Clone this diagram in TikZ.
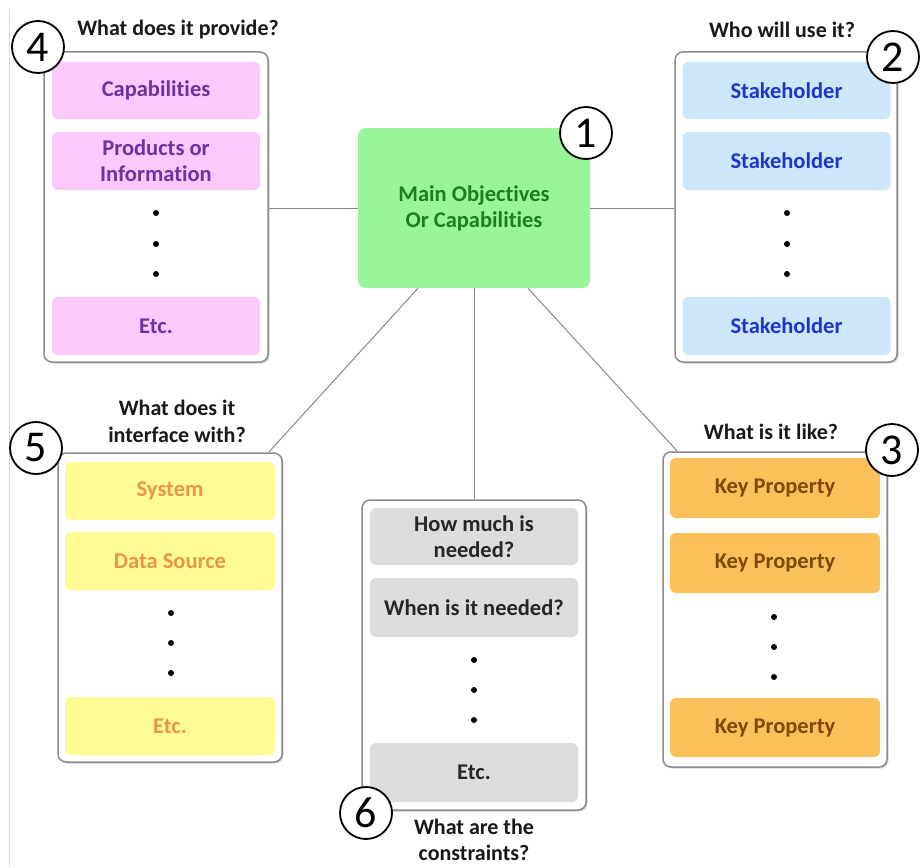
\documentclass[tikz,border=0pt]{standalone}
\usepackage{fontspec}
\setmainfont[Ligatures=NoCommon]{Carlito}
\usetikzlibrary{shadows,calc}
\definecolor{pinkF}{HTML}{FBC9FB}
\definecolor{pinkT}{HTML}{7030A0}
\definecolor{blueF}{HTML}{CCE7FA}
\definecolor{blueT}{HTML}{2035C8}
\definecolor{greenF}{HTML}{98F598}
\definecolor{greenT}{HTML}{1E7D1E}
\definecolor{yellowF}{HTML}{FFFB94}
\definecolor{yellowT}{HTML}{E8954A}
\definecolor{orangeF}{HTML}{FAC05A}
\definecolor{orangeT}{HTML}{7B4A06}
\definecolor{grayF}{HTML}{DCDCDC}
\definecolor{grayT}{HTML}{262626}
\definecolor{outl}{HTML}{8C8C8C}
\definecolor{connc}{HTML}{8A8A8A}
\tikzset{
  outerbox/.style={draw=outl, line width=1.5pt, rounded corners=8pt, fill=white,
    drop shadow={shadow xshift=1.5pt, shadow yshift=-1.5pt, opacity=0.35, fill=black!50},
    minimum width=224pt, minimum height=310pt, inner sep=0pt},
  itembox/.style={rounded corners=6pt, inner sep=0pt, align=center,
    minimum width=208pt, minimum height=57pt, font=\fontsize{22.5}{26}\bfseries\selectfont},
  titletext/.style={align=center, text=black!90, font=\fontsize{22}{27}\bfseries\selectfont, inner sep=0pt},
  dotn/.style={circle, fill=black, inner sep=0pt, minimum size=6pt},
  numc/.style={circle, draw=black, line width=1.8pt, fill=white, minimum size=52pt, inner sep=0pt,
    font=\fontsize{44}{44}\selectfont},
  conn/.style={draw=connc, line width=1pt},
}
\begin{document}
\begin{tikzpicture}[x=1pt, y=-1pt]
\useasboundingbox[fill=white] (0,0) rectangle (920,867);
\draw[black!15, line width=1pt] (9,10) -- (9,867);

% main
\node[rounded corners=8pt, fill=greenF, minimum width=232pt, minimum height=160pt, inner sep=0pt,
  align=center, text=greenT, font=\fontsize{22.5}{26}\bfseries\selectfont] (main) at (474,208)
  {Main Objectives\\Or Capabilities};

% box 4
\node[outerbox] (b4) at (156,207) {};
\node[itembox, fill=pinkF, text=pinkT] (b4a) at (156,90.5) {Capabilities};
\node[itembox, fill=pinkF, text=pinkT, minimum height=58pt] (b4b) at (156,161) {Products or\\Information};
\node[dotn] (b4d1) at (156,213) {};
\node[dotn] (b4d2) at (156,244) {};
\node[dotn] (b4d3) at (156,274) {};
\node[itembox, fill=pinkF, text=pinkT, minimum height=58pt] (b4c) at (156,326) {Etc.};
\node[titletext] (t4) at (178,30) {What does it provide?};

% box 2
\node[outerbox, minimum width=222pt] (b2) at (786,207) {};
\node[itembox, fill=blueF, text=blueT] (b2a) at (786.5,90.5) {Stakeholder};
\node[itembox, fill=blueF, text=blueT, minimum height=58pt] (b2b) at (786.5,161) {Stakeholder};
\node[dotn] (b2d1) at (787,213) {};
\node[dotn] (b2d2) at (787,244) {};
\node[dotn] (b2d3) at (787,274) {};
\node[itembox, fill=blueF, text=blueT, minimum height=58pt] (b2c) at (786.5,326) {Stakeholder};
\node[titletext] (t2) at (782,30) {Who will use it?};

% box 5
\node[outerbox, minimum height=309pt] (b5) at (170,607.5) {};
\node[itembox, fill=yellowF, text=yellowT, minimum height=58pt, minimum width=210pt] (b5a) at (170,491) {System};
\node[itembox, fill=yellowF, text=yellowT, minimum height=58pt, minimum width=210pt] (b5b) at (170,561) {Data Source};
\node[dotn] (b5d1) at (171,613) {};
\node[dotn] (b5d2) at (171,643) {};
\node[dotn] (b5d3) at (171,673) {};
\node[itembox, fill=yellowF, text=yellowT, minimum height=58pt, minimum width=210pt] (b5c) at (170,726) {Etc.};
\node[titletext] (t5) at (177,421) {What does it\\interface with?};

% box 6
\node[outerbox, minimum height=310pt] (b6) at (474,655) {};
\node[itembox, fill=grayF, text=grayT, minimum height=57pt] (b6a) at (474,536.5) {How much is\\needed?};
\node[itembox, fill=grayF, text=grayT, minimum height=59pt] (b6b) at (474,607.5) {When is it needed?};
\node[dotn] (b6d1) at (474,660) {};
\node[dotn] (b6d2) at (474,690) {};
\node[dotn] (b6d3) at (474,720) {};
\node[itembox, fill=grayF, text=grayT, minimum height=59pt] (b6c) at (474,772.5) {Etc.};
\node[titletext, font=\fontsize{22}{26}\bfseries\selectfont] (t6) at (474,840) {What are the\\constraints?};

% box 3
\node[outerbox, minimum height=315pt] (b3) at (775,609.5) {};
\node[itembox, fill=orangeF, text=orangeT, minimum height=60pt, minimum width=210pt] (b3a) at (775,488) {Key Property};
\node[itembox, fill=orangeF, text=orangeT, minimum height=60pt, minimum width=210pt] (b3b) at (775,563) {Key Property};
\node[dotn] (b3d1) at (774,617) {};
\node[dotn] (b3d2) at (774,647) {};
\node[dotn] (b3d3) at (774,677) {};
\node[itembox, fill=orangeF, text=orangeT, minimum height=59pt, minimum width=210pt] (b3c) at (775,727.5) {Key Property};
\node[titletext] (t3) at (771,432) {What is it like?};

% connectors
\draw[conn] (main.west) -- (main.west -| b4.east);
\draw[conn] (main.east) -- (main.east -| b2.west);
\draw[conn] ([xshift=-56pt]main.south) -- ([xshift=-14pt]b5.north east);
\draw[conn] (main.south) -- (b6.north);
\draw[conn] ([xshift=54pt]main.south) -- ([xshift=15pt]b3.north west);

% number circles
\node[numc] (n1) at (586,133) {1};
\node[numc] (n2) at (893,57) {2};
\node[numc] (n3) at (892,450) {3};
\node[numc] (n4) at (38,47) {4};
\node[numc] (n5) at (36,448) {5};
\node[numc] (n6) at (366,813) {6};
\end{tikzpicture}
\end{document}
